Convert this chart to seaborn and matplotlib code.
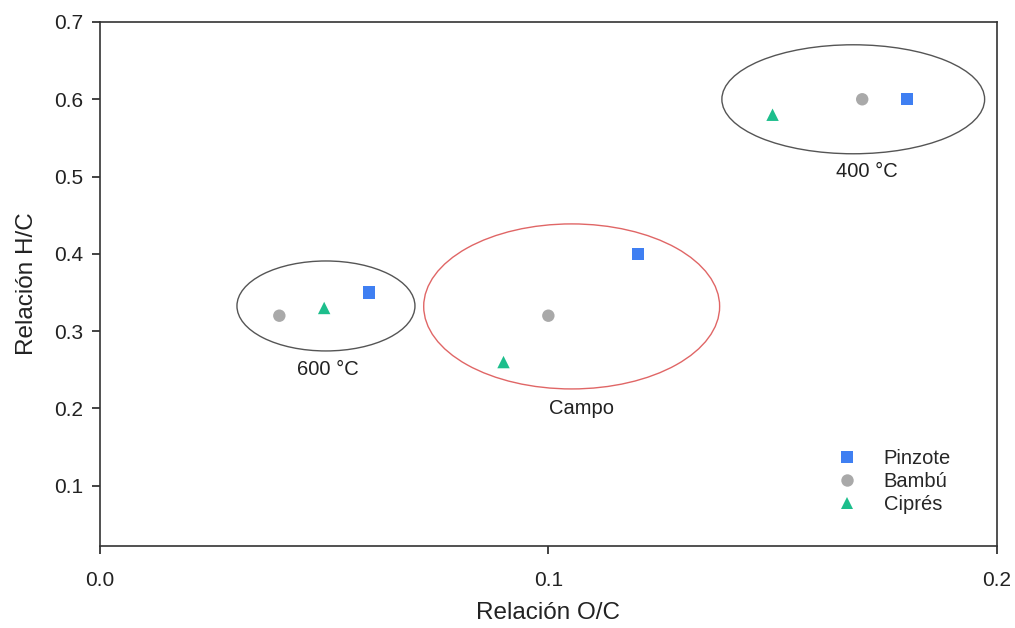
import pandas as pd
import matplotlib.pyplot as plt
import seaborn as sns
from matplotlib.patches import Ellipse

# Data
especies = ['Pinzote', 'Pinzote', 'Pinzote',
            'Bambú', 'Bambú', 'Bambú',
            'Ciprés', 'Ciprés', 'Ciprés']
oc = [0.18, 0.12, 0.06,
      0.17, 0.10, 0.04,
      0.15, 0.09, 0.05]
hc = [0.60, 0.40, 0.35,
      0.60, 0.32, 0.32,
      0.58, 0.26, 0.33]

grupos = ['400 °C', '600 °C', 'Campo']
grupo_cx = [0.168, 0.0504, 0.1052]
grupo_cy = [0.600, 0.3326, 0.332]
grupo_w = [0.0586, 0.0397, 0.066]
grupo_h = [0.141, 0.1164, 0.2135]
grupo_lx = [0.171, 0.0508, 0.1075]
grupo_ly = [0.507, 0.251, 0.200]
grupo_color = ['#555555', '#555555', '#E06666']

df = pd.DataFrame({'Especie': especies, 'OC': oc, 'HC': hc})

sns.set_theme(style='ticks')
plt.rcParams['font.family'] = ['Liberation Sans', 'DejaVu Sans']

fig, ax = plt.subplots(figsize=(10.15, 6.28), dpi=100)
fig.subplots_adjust(left=0.0985, right=0.982, top=0.965, bottom=0.131)

colores = {'Pinzote': '#3F7FF2', 'Bambú': '#A9A9A9', 'Ciprés': '#1DBE8C'}
marcas = {'Pinzote': 's', 'Bambú': 'o', 'Ciprés': '^'}
sns.scatterplot(data=df, x='OC', y='HC', hue='Especie', style='Especie',
                palette=colores, markers=marcas, s=80, linewidth=0, ax=ax)

for i in range(len(grupos)):
    ax.add_patch(Ellipse((grupo_cx[i], grupo_cy[i]), grupo_w[i], grupo_h[i],
                         fill=False, edgecolor=grupo_color[i], linewidth=1.0))
    ax.text(grupo_lx[i], grupo_ly[i], grupos[i], ha='center', va='center',
            fontsize=14.5, color='#222222')

ax.set_xlim(0, 0.2)
ax.set_ylim(0.0224, 0.7)
ax.set_xticks([0.0, 0.1, 0.2])
ax.set_xticklabels(['0.0', '0.1', '0.2'])
ax.set_yticks([0.1, 0.2, 0.3, 0.4, 0.5, 0.6, 0.7])
ax.tick_params(labelsize=15, colors='#222222', length=6, width=1.2, pad=6)
ax.tick_params(axis='x', pad=12)
for sp in ax.spines.values():
    sp.set_color('#333333')
    sp.set_linewidth(1.2)

ax.set_xlabel('Relación O/C', fontsize=17.5, labelpad=9, color='#222222')
ax.set_ylabel('Relación H/C', fontsize=17.5, labelpad=12, color='#222222')

ax.legend(frameon=False, loc='lower right', bbox_to_anchor=(0.969, 0.026),
          fontsize=14.5, handletextpad=0.8, labelspacing=0.2, markerscale=1.0)

plt.savefig('out.png')
